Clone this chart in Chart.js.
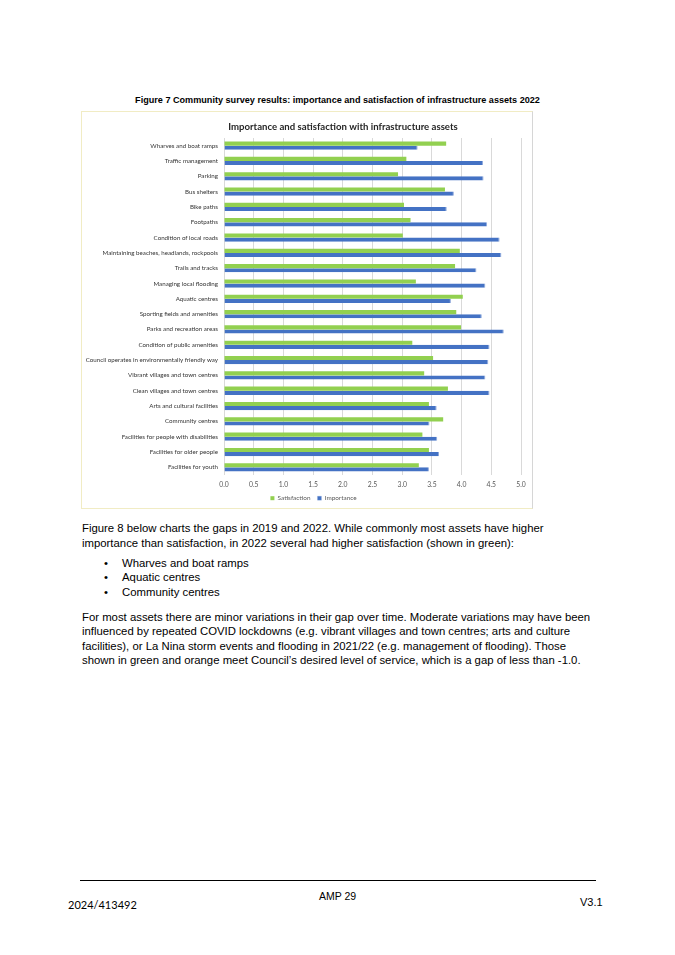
<!DOCTYPE html>
<html>
<head>
<meta charset="utf-8">
<script src="https://cdn.jsdelivr.net/npm/chart.js@4"></script>
<style>
  html, body { margin:0; padding:0; background:#fff; }
  body { width:675px; height:955px; position:relative; font-family:"Liberation Sans", Arial, sans-serif; color:#000; }
  .cap { position:absolute; left:0; width:675px; top:95px; text-align:center; font-weight:bold; font-size:9.1px; }
  #box { position:absolute; left:81px; top:111px; width:450px; height:396px; border-top:1px solid #f1ecc4; border-left:1px solid #f1ecc4; border-bottom:1px solid #f1ecc4; border-right:1px solid #d6d6d6; }
  #box canvas { display:block; position:absolute; left:0; top:0; }
  .p { position:absolute; left:82px; font-size:11.35px; line-height:14.5px; width:560px; white-space:nowrap; }
  .b { position:absolute; left:104px; font-size:11.35px; }
  .b2 { position:absolute; left:122px; font-size:11.35px; }
  .rule { position:absolute; left:80px; top:880px; width:516px; height:1px; background:#000; }
  .f1 { position:absolute; left:68px; top:898px; font-family:Lato, "Open Sans", sans-serif; font-size:11px; }
  .f2 { position:absolute; left:0; width:675px; text-align:center; top:890px; font-size:10.5px; }
  .f3 { position:absolute; left:580px; top:896px; font-size:11px; }
</style>
</head>
<body>
<div class="cap">Figure 7 Community survey results: importance and satisfaction of infrastructure assets 2022</div>
<div id="box"><canvas id="c" width="450" height="396"></canvas></div>

<div class="p" style="top:521px;">Figure 8 below charts the gaps in 2019 and 2022. While commonly most assets have higher<br>importance than satisfaction, in 2022 several had higher satisfaction (shown in green):</div>
<div class="b" style="top:557px;">•</div><div class="b2" style="top:557px;">Wharves and boat ramps</div>
<div class="b" style="top:571px;">•</div><div class="b2" style="top:571px;">Aquatic centres</div>
<div class="b" style="top:586px;">•</div><div class="b2" style="top:586px;">Community centres</div>
<div class="p" style="top:610px; line-height:14.4px;">For most assets there are minor variations in their gap over time. Moderate variations may have been<br>influenced by repeated COVID lockdowns (e.g. vibrant villages and town centres; arts and culture<br>facilities), or La Nina storm events and flooding in 2021/22 (e.g. management of flooding). Those<br>shown in green and orange meet Council’s desired level of service, which is a gap of less than -1.0.</div>

<div class="rule"></div>
<div class="f2">AMP 29</div>
<div class="f1">2024/413492</div>
<div class="f3">V3.1</div>

<script>
const categories = [
  "Wharves and boat ramps",
  "Traffic management",
  "Parking",
  "Bus shelters",
  "Bike paths",
  "Footpaths",
  "Condition of local roads",
  "Maintaining beaches, headlands, rockpools",
  "Trails and tracks",
  "Managing local flooding",
  "Aquatic centres",
  "Sporting fields and amenities",
  "Parks and recreation areas",
  "Condition of public amenities",
  "Council operates in environmentally friendly way",
  "Vibrant villages and town centres",
  "Clean villages and town centres",
  "Arts and cultural facilities",
  "Community centres",
  "Facilities for people with disabilities",
  "Facilities for older people",
  "Facilities for youth"
];
const satisfaction = [3.74, 3.07, 2.93, 3.72, 3.03, 3.14, 3.01, 3.97, 3.89, 3.23, 4.02, 3.91, 3.99, 3.17, 3.52, 3.37, 3.77, 3.45, 3.69, 3.34, 3.45, 3.28];
const importance   = [3.26, 4.36, 4.37, 3.87, 3.75, 4.43, 4.64, 4.67, 4.25, 4.40, 3.82, 4.34, 4.71, 4.47, 4.45, 4.40, 4.47, 3.58, 3.46, 3.59, 3.62, 3.45];
const xTicks = ["0.0","0.5","1.0","1.5","2.0","2.5","3.0","3.5","4.0","4.5","5.0"];
const chartTitle = "Importance and satisfaction with infrastructure assets";
const seriesNames = ["Satisfaction", "Importance"];

const FONT = "Lato, 'Open Sans', sans-serif";

// Title drawn at the Excel-like position (centred a bit right of the box centre)
const titlePlugin = {
  id: 'xlTitle',
  afterDraw(chart) {
    const ctx = chart.ctx;
    ctx.save();
    ctx.font = "bold 9.6px " + FONT;
    ctx.fillStyle = '#262626';
    ctx.textAlign = 'center';
    ctx.textBaseline = 'middle';
    ctx.fillText(chartTitle, 261, 14.5);
    ctx.restore();
  }
};
// Keep the legend compact and placed like the Excel original
const legendHeightPlugin = {
  id: 'legendH',
  beforeLayout(chart) {
    const lg = chart.legend;
    if (lg && !lg._patched) {
      const f = lg.fit;
      lg.fit = function () { f.call(this); this.height = 20; };
      lg._patched = true;
    }
  },
  afterLayout(chart) {
    const lg = chart.legend;
    if (lg) { lg.left += 12; lg.right += 12; }
  }
};

new Chart(document.getElementById('c'), {
  type: 'bar',
  data: {
    labels: categories,
    datasets: [
      { label: seriesNames[0], data: satisfaction, backgroundColor: '#92D050', borderWidth: 0, categoryPercentage: 0.54, barPercentage: 1.0 },
      { label: seriesNames[1], data: importance, backgroundColor: '#4472C4', borderColor: '#8fa9dc', borderWidth: {top:0,bottom:0,left:0,right:1}, categoryPercentage: 0.54, barPercentage: 1.0 }
    ]
  },
  plugins: [titlePlugin, legendHeightPlugin],
  options: {
    indexAxis: 'y',
    responsive: false,
    animation: false,
    devicePixelRatio: 1,
    layout: { padding: { left: 0, right: 11, top: 26, bottom: 0 } },
    plugins: {
      title: { display: false },
      legend: { position: 'bottom', labels: { boxWidth: 4, boxHeight: 4, color: '#595959', font: { family: FONT, size: 6.4 }, padding: 7 } },
      tooltip: { enabled: false }
    },
    scales: {
      x: {
        min: 0, max: 5,
        ticks: { stepSize: 0.5, color: '#595959', font: { family: FONT, size: 6.8 }, padding: 6,
                 callback: (v, i) => xTicks[i] },
        grid: { color: '#d9d9d9', drawTicks: false },
        border: { display: false },
        afterFit: (s) => { s.height = 13; }
      },
      y: {
        ticks: { color: '#333333', font: { family: FONT, size: 6.2 }, padding: 6, autoSkip: false },
        grid: { display: false, drawTicks: false },
        border: { display: false },
        afterFit: (s) => { s.width = 142; }
      }
    }
  }
});
</script>
</body>
</html>
